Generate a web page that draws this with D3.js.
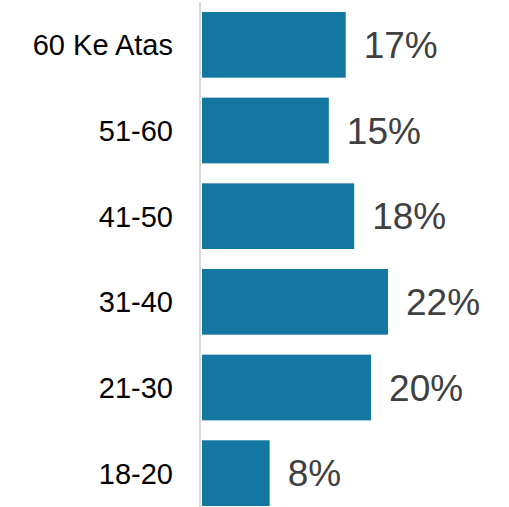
<!DOCTYPE html>
<html>
<head>
<meta charset="utf-8">
<script src="https://cdn.jsdelivr.net/npm/d3@7"></script>
<style>
  html, body { margin: 0; padding: 0; background: #ffffff; }
  svg { display: block; }
</style>
</head>
<body>
<svg id="chart" width="509" height="507"></svg>
<script>
const categories = ["60 Ke Atas", "51-60", "41-50", "31-40", "21-30", "18-20"];
const values = [0.17, 0.15, 0.18, 0.22, 0.20, 0.08];

const W = 509, H = 507;
const svg = d3.select("#chart");

const y = d3.scaleBand()
  .domain(categories)
  .range([2, 516])
  .paddingInner(0.233)
  .paddingOuter(0.1165);

const x = d3.scaleLinear()
  .domain([0, 0.22])
  .range([202, 388]);

// bars
svg.selectAll("rect.bar")
  .data(categories)
  .join("rect")
  .attr("class", "bar")
  .attr("x", x(0))
  .attr("y", d => y(d))
  .attr("width", (d, i) => x(values[i]) - x(0))
  .attr("height", y.bandwidth())
  .attr("fill", "#1377a2");

// vertical axis line
svg.append("line")
  .attr("x1", 200).attr("x2", 200)
  .attr("y1", 2).attr("y2", H)
  .attr("stroke", "#d9d9d9")
  .attr("stroke-width", 2);

// category labels
svg.selectAll("text.cat")
  .data(categories)
  .join("text")
  .attr("class", "cat")
  .attr("x", 173)
  .attr("y", d => y(d) + y.bandwidth() / 2 + 10.5)
  .attr("text-anchor", "end")
  .attr("font-family", "Liberation Sans, Arial, sans-serif")
  .attr("font-size", 29)
  .attr("fill", "#000000")
  .text(d => d);

// value labels
const fmt = d3.format(".0%");
svg.selectAll("text.val")
  .data(categories)
  .join("text")
  .attr("class", "val")
  .attr("x", (d, i) => x(values[i]) + 18)
  .attr("y", d => y(d) + y.bandwidth() / 2 + 13)
  .attr("text-anchor", "start")
  .attr("font-family", "Liberation Sans, Arial, sans-serif")
  .attr("font-size", 37)
  .attr("fill", "#404040")
  .text((d, i) => fmt(values[i]));
</script>
</body>
</html>
